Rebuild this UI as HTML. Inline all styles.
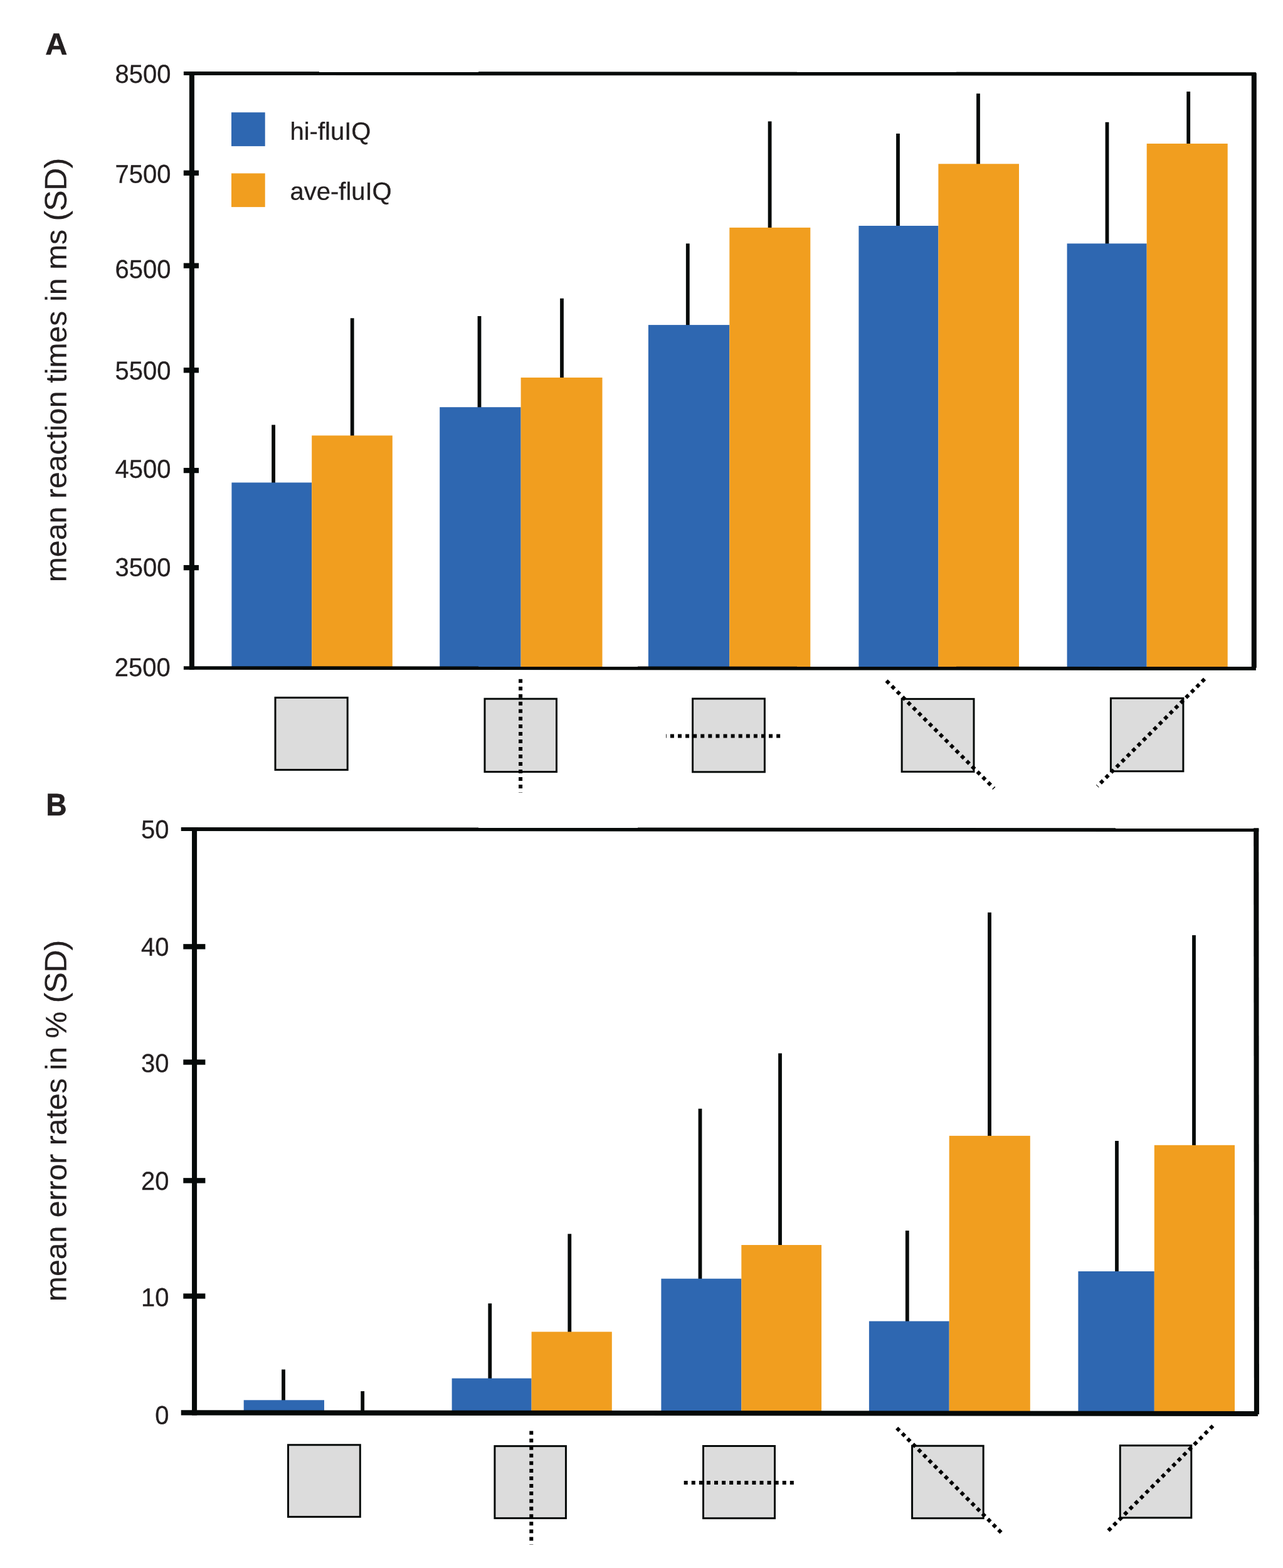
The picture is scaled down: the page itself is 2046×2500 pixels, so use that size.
<!DOCTYPE html>
<html lang="en"><head><meta charset="utf-8"><title>Figure: reaction times and error rates</title>
<style>html,body{margin:0;padding:0;background:#fff}svg{display:block}text{font-family:"Liberation Sans",Arial,Helvetica,sans-serif;fill:#231f20;text-rendering:geometricPrecision}</style></head>
<body><svg width="2046" height="2500" viewBox="0 0 2046 2500" role="img" aria-label="Bar charts of mean reaction times and mean error rates for hi-fluIQ and ave-fluIQ groups">
<rect x="0" y="0" width="2046" height="2500" fill="#ffffff"/>
<rect x="433.20" y="677.40" width="5.80" height="95.60" fill="#060a09"/>
<rect x="558.80" y="507.30" width="5.80" height="190.70" fill="#060a09"/>
<rect x="761.60" y="504.00" width="5.80" height="149.00" fill="#060a09"/>
<rect x="893.10" y="475.80" width="5.80" height="130.20" fill="#060a09"/>
<rect x="1093.90" y="388.30" width="5.80" height="133.70" fill="#060a09"/>
<rect x="1224.70" y="193.50" width="5.80" height="173.50" fill="#060a09"/>
<rect x="1429.10" y="213.00" width="5.80" height="151.00" fill="#060a09"/>
<rect x="1557.10" y="149.20" width="5.80" height="115.80" fill="#060a09"/>
<rect x="1762.60" y="194.80" width="5.80" height="197.20" fill="#060a09"/>
<rect x="1892.30" y="146.00" width="5.80" height="87.00" fill="#060a09"/>
<rect x="369.40" y="769.40" width="127.80" height="294.60" fill="#2e67b1"/>
<rect x="497.20" y="694.40" width="128.60" height="369.60" fill="#f19e1f"/>
<rect x="701.20" y="649.20" width="129.40" height="414.80" fill="#2e67b1"/>
<rect x="830.60" y="602.00" width="129.90" height="462.00" fill="#f19e1f"/>
<rect x="1033.90" y="518.10" width="129.40" height="545.90" fill="#2e67b1"/>
<rect x="1163.30" y="362.90" width="129.00" height="701.10" fill="#f19e1f"/>
<rect x="1369.40" y="360.00" width="127.00" height="704.00" fill="#2e67b1"/>
<rect x="1496.40" y="261.30" width="128.60" height="802.70" fill="#f19e1f"/>
<rect x="1701.60" y="388.30" width="127.10" height="675.70" fill="#2e67b1"/>
<rect x="1828.70" y="229.00" width="129.00" height="835.00" fill="#f19e1f"/>
<polygon points="292.90,114.00 2002.90,115.20 2002.90,120.80 292.90,119.90" fill="#060a09"/>
<polygon points="292.90,1062.15 2002.90,1063.05 2002.90,1068.85 292.90,1067.80" fill="#060a09"/>
<polygon points="301.90,114.00 309.95,114.00 309.95,1067.80 301.90,1067.80" fill="#060a09"/>
<polygon points="1995.80,116.50 2003.80,116.50 2003.80,1064.80 1995.80,1064.80" fill="#060a09"/>
<rect x="292.80" y="271.65" width="24.20" height="8.30" fill="#060a09"/>
<rect x="292.80" y="419.45" width="24.20" height="8.30" fill="#060a09"/>
<rect x="292.80" y="586.15" width="24.20" height="8.30" fill="#060a09"/>
<rect x="292.80" y="745.95" width="24.20" height="8.30" fill="#060a09"/>
<rect x="292.80" y="900.95" width="24.20" height="8.30" fill="#060a09"/>
<text transform="translate(272.50 132.10) rotate(0.03) scale(0.9709 1)" font-size="41.20" text-anchor="end" stroke="#231f20" stroke-width="0.30">8500</text>
<text transform="translate(272.50 291.50) rotate(0.03) scale(0.9709 1)" font-size="41.20" text-anchor="end" stroke="#231f20" stroke-width="0.30">7500</text>
<text transform="translate(272.50 443.25) rotate(0.03) scale(0.9709 1)" font-size="41.20" text-anchor="end" stroke="#231f20" stroke-width="0.30">6500</text>
<text transform="translate(272.50 605.05) rotate(0.03) scale(0.9709 1)" font-size="41.20" text-anchor="end" stroke="#231f20" stroke-width="0.30">5500</text>
<text transform="translate(272.50 761.85) rotate(0.03) scale(0.9709 1)" font-size="41.20" text-anchor="end" stroke="#231f20" stroke-width="0.30">4500</text>
<text transform="translate(272.50 918.65) rotate(0.03) scale(0.9709 1)" font-size="41.20" text-anchor="end" stroke="#231f20" stroke-width="0.30">3500</text>
<text transform="translate(271.80 1078.10) rotate(0.03) scale(0.9709 1)" font-size="41.20" text-anchor="end" stroke="#231f20" stroke-width="0.30">2500</text>
<text transform="translate(105.70 589.30) rotate(-89.97) scale(1.0204 1)" font-size="47.21" text-anchor="middle" stroke="#231f20" stroke-width="0.15" aria-label="mean reaction times in ms (SD)"><tspan dx="-1.2">mean</tspan><tspan dx="-0.5"> reaction</tspan><tspan dx="-0.5"> times</tspan><tspan dx="1.3"> in</tspan><tspan dx="0"> ms </tspan><tspan font-size="49.29" letter-spacing="-0.9">(SD)</tspan></text>
<text transform="translate(72.30 87.00) rotate(0.03) scale(1.0000 1)" font-size="48.70" font-weight="bold" stroke="#231f20" stroke-width="0.6" stroke-linejoin="miter">A</text>
<rect x="439.00" y="1112.30" width="115.20" height="115.10" fill="#dcdcdc" stroke="#060a09" stroke-width="3.00"/>
<rect x="773.00" y="1114.20" width="114.50" height="116.40" fill="#dcdcdc" stroke="#060a09" stroke-width="3.00"/>
<line x1="830.10" y1="1082.70" x2="830.10" y2="1263.75" stroke="#000" stroke-width="6.00" stroke-dasharray="6 6.03"/>
<rect x="1104.60" y="1114.00" width="114.80" height="116.80" fill="#dcdcdc" stroke="#060a09" stroke-width="3.00"/>
<line x1="1244.15" y1="1173.50" x2="1062.00" y2="1173.50" stroke="#000" stroke-width="6.00" stroke-dasharray="6 6.09"/>
<rect x="1438.15" y="1114.40" width="114.85" height="116.00" fill="#dcdcdc" stroke="#060a09" stroke-width="3.00"/>
<line x1="1413.62" y1="1085.45" x2="1585.20" y2="1257.00" stroke="#000" stroke-width="6.00" stroke-dasharray="6 6.06"/>
<rect x="1771.40" y="1113.30" width="115.50" height="116.40" fill="#dcdcdc" stroke="#060a09" stroke-width="3.00"/>
<line x1="1921.02" y1="1082.58" x2="1750.00" y2="1253.55" stroke="#000" stroke-width="6.00" stroke-dasharray="6 6.05"/>
<rect x="369.00" y="179.20" width="53.70" height="53.90" fill="#2e67b1"/>
<rect x="369.00" y="276.40" width="53.70" height="53.70" fill="#f19e1f"/>
<text transform="translate(462.50 222.80) rotate(0.03) scale(1.0101 1)" font-size="39.60" text-anchor="start" stroke="#231f20" stroke-width="0.30">hi-fluIQ</text>
<text transform="translate(462.50 318.50) rotate(0.03) scale(1.0101 1)" font-size="39.60" text-anchor="start" stroke="#231f20" stroke-width="0.30">ave-fluIQ</text>
<rect x="449.10" y="2183.50" width="5.80" height="52.50" fill="#060a09"/>
<rect x="575.30" y="2218.10" width="5.80" height="35.90" fill="#060a09"/>
<rect x="778.40" y="2078.20" width="5.80" height="122.80" fill="#060a09"/>
<rect x="905.40" y="1967.30" width="5.80" height="159.70" fill="#060a09"/>
<rect x="1113.60" y="1767.70" width="5.80" height="274.30" fill="#060a09"/>
<rect x="1241.10" y="1679.40" width="5.80" height="309.60" fill="#060a09"/>
<rect x="1443.90" y="1962.10" width="5.80" height="147.90" fill="#060a09"/>
<rect x="1575.10" y="1454.80" width="5.80" height="360.20" fill="#060a09"/>
<rect x="1778.10" y="1819.00" width="5.80" height="212.00" fill="#060a09"/>
<rect x="1901.10" y="1491.10" width="5.80" height="338.90" fill="#060a09"/>
<rect x="388.70" y="2232.30" width="128.30" height="18.70" fill="#2e67b1"/>
<rect x="720.60" y="2197.60" width="127.00" height="53.40" fill="#2e67b1"/>
<rect x="847.60" y="2123.40" width="128.20" height="127.60" fill="#f19e1f"/>
<rect x="1054.40" y="2038.70" width="127.90" height="212.30" fill="#2e67b1"/>
<rect x="1182.30" y="1985.00" width="127.70" height="266.00" fill="#f19e1f"/>
<rect x="1385.90" y="2106.50" width="127.80" height="144.50" fill="#2e67b1"/>
<rect x="1513.70" y="1810.90" width="129.10" height="440.10" fill="#f19e1f"/>
<rect x="1719.40" y="2027.00" width="121.40" height="224.00" fill="#2e67b1"/>
<rect x="1840.80" y="1825.80" width="128.20" height="425.20" fill="#f19e1f"/>
<polygon points="288.75,1319.10 2007.30,1320.30 2007.30,1326.05 288.75,1325.10" fill="#060a09"/>
<polygon points="288.75,2248.20 2005.90,2249.90 2005.90,2257.90 288.75,2256.50" fill="#060a09"/>
<polygon points="306.05,1319.10 314.10,1319.10 314.10,2256.50 306.05,2256.50" fill="#060a09"/>
<polygon points="1999.20,1320.30 2007.30,1320.30 2007.97,2254.90 1999.90,2254.90" fill="#060a09"/>
<rect x="292.30" y="1505.15" width="35.10" height="8.30" fill="#060a09"/>
<rect x="292.30" y="1689.35" width="35.10" height="8.30" fill="#060a09"/>
<rect x="292.30" y="1878.15" width="35.10" height="8.30" fill="#060a09"/>
<rect x="292.30" y="2062.35" width="35.10" height="8.30" fill="#060a09"/>
<text transform="translate(269.60 1336.60) rotate(0.03) scale(0.9709 1)" font-size="41.20" text-anchor="end" stroke="#231f20" stroke-width="0.30">50</text>
<text transform="translate(269.60 1523.75) rotate(0.03) scale(0.9709 1)" font-size="41.20" text-anchor="end" stroke="#231f20" stroke-width="0.30">40</text>
<text transform="translate(269.60 1709.15) rotate(0.03) scale(0.9709 1)" font-size="41.20" text-anchor="end" stroke="#231f20" stroke-width="0.30">30</text>
<text transform="translate(269.60 1896.90) rotate(0.03) scale(0.9709 1)" font-size="41.20" text-anchor="end" stroke="#231f20" stroke-width="0.30">20</text>
<text transform="translate(269.60 2082.55) rotate(0.03) scale(0.9709 1)" font-size="41.20" text-anchor="end" stroke="#231f20" stroke-width="0.30">10</text>
<text transform="translate(269.60 2270.55) rotate(0.03) scale(0.9709 1)" font-size="41.20" text-anchor="end" stroke="#231f20" stroke-width="0.30">0</text>
<text transform="translate(105.70 1787.40) rotate(-89.97) scale(1.0204 1)" font-size="47.21" text-anchor="middle" stroke="#231f20" stroke-width="0.15" aria-label="mean error rates in % (SD)"><tspan dx="0">mean error rates</tspan><tspan dx="-0.6"> in</tspan><tspan dx="0"> % </tspan><tspan font-size="49.29" letter-spacing="-0.9">(SD)</tspan></text>
<text transform="translate(73.20 1300.00) rotate(0.03) scale(0.9280 1)" font-size="49.70" font-weight="bold" stroke="#231f20" stroke-width="0.6" stroke-linejoin="miter">B</text>
<rect x="459.50" y="2303.75" width="114.80" height="114.65" fill="#dcdcdc" stroke="#060a09" stroke-width="3.00"/>
<rect x="788.95" y="2305.65" width="113.50" height="114.95" fill="#dcdcdc" stroke="#060a09" stroke-width="3.00"/>
<line x1="847.30" y1="2281.60" x2="847.30" y2="2463.00" stroke="#000" stroke-width="6.00" stroke-dasharray="6 6.06"/>
<rect x="1121.50" y="2305.50" width="114.00" height="115.20" fill="#dcdcdc" stroke="#060a09" stroke-width="3.00"/>
<line x1="1265.80" y1="2364.00" x2="1089.50" y2="2364.00" stroke="#000" stroke-width="6.00" stroke-dasharray="6 6.08"/>
<rect x="1454.55" y="2305.25" width="113.60" height="115.45" fill="#dcdcdc" stroke="#060a09" stroke-width="3.00"/>
<line x1="1430.20" y1="2276.80" x2="1598.70" y2="2445.50" stroke="#000" stroke-width="6.00" stroke-dasharray="6 6.07"/>
<rect x="1786.25" y="2304.70" width="113.55" height="115.20" fill="#dcdcdc" stroke="#060a09" stroke-width="3.00"/>
<line x1="1934.25" y1="2273.40" x2="1766.40" y2="2441.55" stroke="#000" stroke-width="6.00" stroke-dasharray="6 6.11"/>
</svg></body></html>
